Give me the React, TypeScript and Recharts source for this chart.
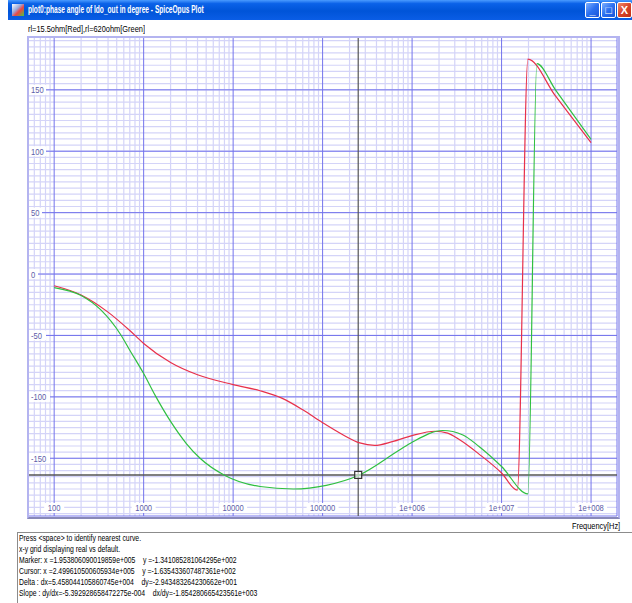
import React from 'react';
import {
  LineChart,
  Line,
  XAxis,
  YAxis,
  CartesianGrid,
  ReferenceLine,
  ReferenceDot,
} from 'recharts';

// rl=15.5ohm (red)
const redFreq = [100, 200, 400, 700, 1000, 2000, 4000, 10000, 20000, 35000, 60000, 100000, 170000, 260000, 380000, 600000, 1e6, 1.8e6, 2.5e6, 3.4e6, 5.6e6, 1e7, 1.5e7, 1.97e7, 4e7, 1e8];
const redPhase = [-9.5, -17, -31, -46, -56.5, -72, -82, -90, -95, -101, -110.5, -121, -131, -137.5, -139.5, -136.5, -131.5, -128, -129.5, -135, -146.6, -162, -176, 175, 145, 107];

// rl=620ohm (green)
const greenFreq = [100, 200, 330, 550, 700, 1000, 1350, 2000, 3000, 4270, 8100, 20000, 47000, 110000, 250000, 730000, 1e6, 2.2e6, 3.7e6, 5.6e6, 1e7, 1.97e7, 2.48e7, 4e7, 1e8];
const greenPhase = [-11, -17.5, -29, -49, -62, -81, -99, -120, -138, -150, -164, -173, -175, -172, -164, -143, -137, -127.4, -131, -140.4, -156.7, -179, 171.3, 150, 109.7];

const xTicks = [100, 1000, 10000, 100000, 1e6, 1e7, 1e8];
const xTickLabels = ['100', '1000', '10000', '100000', '1e+006', '1e+007', '1e+008'];
const yTicks = [-150, -100, -50, 0, 50, 100, 150];

const cursorX = 2.499610500605934e5;
const cursorY = -1.635433607487361e2;

const infoLines = [
  'Press <space> to identify nearest curve.',
  'x-y grid displaying real vs default.',
  'Marker: x =1.953806090019859e+005    y =-1.341085281064295e+002',
  'Cursor: x =2.499610500605934e+005    y =-1.635433607487361e+002',
  'Delta : dx=5.458044105860745e+004    dy=-2.943483264230662e+001',
  'Slope : dy/dx=-5.392928658472275e-004    dx/dy=-1.854280665423561e+003',
];

// minor grid: 2..9 within each decade, every 5 degrees
const xMinor: number[] = [];
for (let d = 1; d <= 8; d++) {
  for (let k = 2; k <= 9; k++) {
    const v = k * Math.pow(10, d);
    if (v > 51 && v < 1.95e8) xMinor.push(v);
  }
}
const yMinor: number[] = [];
for (let v = -195; v <= 190; v += 5) yMinor.push(v);

const redData = redFreq.map((f, i) => ({ freq: f, phase: redPhase[i] }));
const greenData = greenFreq.map((f, i) => ({ freq: f, phase: greenPhase[i] }));

const FONT = '"Liberation Sans", Arial, sans-serif';
const LABEL = '#5c5ca8';

const XTick = (props: any) => {
  const { x, y, payload } = props;
  const label = xTickLabels[xTicks.indexOf(payload.value)] ?? String(payload.value);
  const w = label.length * 4 + 8;
  return (
    <g>
      <rect x={x - w / 2} y={y - 13} width={w} height={10} fill="#fff" />
      <text
        transform={`translate(${x} ${y - 5}) scale(0.8 1)`}
        textAnchor="middle"
        fontSize={9.5}
        fontFamily={FONT}
        fill={LABEL}
      >
        {label}
      </text>
    </g>
  );
};

const YTick = (props: any) => {
  const { x, y, payload } = props;
  const label = String(payload.value);
  const w = label.length * 4 + 5;
  return (
    <g>
      <rect x={x + 1} y={y - 5} width={w} height={10} fill="#fff" />
      <text
        transform={`translate(${x + 3} ${y + 3.5}) scale(0.8 1)`}
        textAnchor="start"
        fontSize={9.5}
        fontFamily={FONT}
        fill={LABEL}
      >
        {label}
      </text>
    </g>
  );
};

const Txt: React.FC<{ x: number; y: number; size: number; sx: number; color?: string; bold?: boolean; children: React.ReactNode }> = ({ x, y, size, sx, color = '#000', bold, children }) => (
  <div
    style={{
      position: 'absolute',
      left: x,
      top: y,
      fontSize: size,
      lineHeight: `${size + 2}px`,
      fontFamily: FONT,
      fontWeight: bold ? 'bold' : 'normal',
      color,
      whiteSpace: 'pre',
      transform: `scaleX(${sx})`,
      transformOrigin: 'left top',
    }}
  >
    {children}
  </div>
);

const WinButton: React.FC<{ x: number; red?: boolean; children?: React.ReactNode }> = ({ x, red, children }) => (
  <div
    style={{
      position: 'absolute',
      left: x,
      top: 2,
      width: 13,
      height: 14,
      borderRadius: 2,
      border: '1px solid #fff',
      background: red
        ? 'linear-gradient(135deg, #f08a6a 0%, #d8452a 50%, #c03018 100%)'
        : 'linear-gradient(135deg, #7eb0ff 0%, #2a6ff0 50%, #1a55d8 100%)',
      color: '#fff',
      fontFamily: FONT,
      fontSize: 11,
      fontWeight: 'bold',
      textAlign: 'center',
      lineHeight: '14px',
    }}
  >
    {children}
  </div>
);

const PhasePlot: React.FC = () => (
  <div style={{ position: 'absolute', left: 0, top: 0, width: 632, height: 603, background: '#fff', overflow: 'hidden' }}>
    {/* title bar */}
    <div
      style={{
        position: 'absolute',
        left: 8,
        top: 0,
        width: 624,
        height: 20,
        background: 'linear-gradient(to bottom, #4a9bff 0%, #0b62e8 18%, #0054d8 55%, #0a5de6 100%)',
      }}
    />
    <div style={{ position: 'absolute', left: 12, top: 4, width: 12, height: 12, background: 'linear-gradient(135deg, #fff 0%, #9ad 40%, #e44 60%, #4c4 100%)' }} />
    <Txt x={28} y={3} size={11} sx={0.6} color="#fff" bold>
      plot0:phase angle of ldo_out in degree - SpiceOpus Plot
    </Txt>
    <WinButton x={585}>_</WinButton>
    <WinButton x={601}>□</WinButton>
    <WinButton x={617} red>X</WinButton>

    <Txt x={28} y={23} size={9.5} sx={0.78}>
      rl=15.5ohm[Red],rl=620ohm[Green]
    </Txt>

    <div style={{ position: 'absolute', left: 0, top: 0 }}>
      <LineChart width={632} height={520} margin={{ top: 37, right: 15, bottom: 3, left: 27 }}>
        <CartesianGrid
          stroke="#d4d4f8"
          strokeWidth={1.2}
          verticalValues={xMinor}
          horizontalValues={yMinor}
          syncWithTicks={false}
        />
        <CartesianGrid stroke="#7474ec" strokeWidth={1} />
        <ReferenceLine x={cursorX} stroke="#555" strokeWidth={1.2} />
        <ReferenceLine y={cursorY} stroke="#555" strokeWidth={1.5} />
        <XAxis
          dataKey="freq"
          type="number"
          scale="log"
          domain={[51, 1.95e8]}
          allowDataOverflow
          ticks={xTicks}
          height={1}
          tickSize={0}
          tickMargin={0}
          axisLine={false}
          tickLine={false}
          tick={<XTick />}
          interval={0}
        />
        <YAxis
          type="number"
          domain={[-197, 193]}
          allowDataOverflow
          ticks={yTicks}
          width={1}
          tickSize={0}
          tickMargin={0}
          axisLine={false}
          tickLine={false}
          tick={<YTick />}
          interval={0}
        />
        <Line
          data={redData}
          dataKey="phase"
          type="monotone"
          stroke="#e8304a"
          strokeWidth={1.2}
          dot={false}
          isAnimationActive={false}
        />
        <Line
          data={greenData}
          dataKey="phase"
          type="monotone"
          stroke="#30c040"
          strokeWidth={1.2}
          dot={false}
          isAnimationActive={false}
        />
        <ReferenceDot
          x={cursorX}
          y={cursorY}
          shape={(p: any) => (
            <rect x={p.cx - 3.5} y={p.cy - 3.5} width={7} height={7} fill="#fff" fillOpacity={0.6} stroke="#333" strokeWidth={1.2} />
          )}
        />
      </LineChart>
    </div>

    {/* plot frame */}
    <div
      style={{
        position: 'absolute',
        left: 27,
        top: 36,
        width: 589,
        height: 479,
        borderTop: '2px solid #b4b4f0',
        borderLeft: '2px solid #b4b4f0',
        borderRight: '2px solid #b4b4f0',
        borderBottom: '2px solid #8888b8',
        pointerEvents: 'none',
      }}
    />

    <Txt x={572} y={520} size={9.5} sx={0.78}>
      Frequency[Hz]
    </Txt>

    {/* info panel */}
    <div
      style={{
        position: 'absolute',
        left: 17,
        top: 532,
        width: 620,
        height: 80,
        borderTop: '1px solid #8c8c8c',
        borderLeft: '1px solid #8c8c8c',
        background: '#fff',
      }}
    />
    {infoLines.map((line, i) => (
      <Txt key={i} x={19} y={533 + i * 11} size={9} sx={0.76}>
        {line}
      </Txt>
    ))}
  </div>
);

export default function App() {
  return <PhasePlot />;
}
